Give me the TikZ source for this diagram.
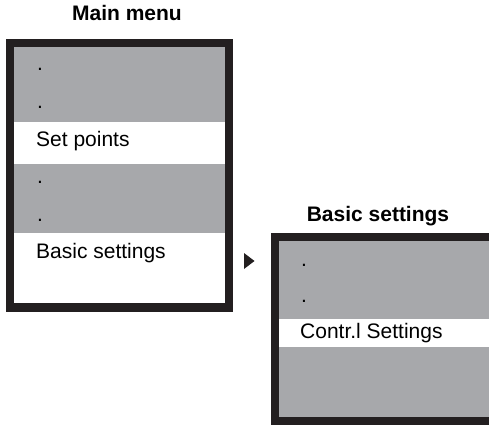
\documentclass[tikz,border=0pt]{standalone}
\usepackage{fontspec}
\setmainfont{Liberation Sans}
\definecolor{menugray}{HTML}{A7A8AB}
\definecolor{frameblack}{HTML}{231F20}

\begin{document}
\begin{tikzpicture}[x=1pt,y=1pt,yscale=-1,
    item/.style={anchor=base west,inner sep=0pt,font=\fontsize{21}{24}\selectfont},
    heading/.style={anchor=base,inner sep=0pt,font=\bfseries\fontsize{21}{24}\selectfont},
    frame/.style={draw=frameblack,line width=8.5pt}]
        \useasboundingbox (0,0) rectangle (489,425);
        \clip (0,0) rectangle (489,425);
        % main menu
        \node[heading] (maintitle) at (127,21) {Main menu};
        \fill[menugray] (10,43) rectangle (229,122);
        \fill[menugray] (10,164) rectangle (229,233);
        \draw[frame] (10,43) rectangle (229,307.5);
        \node[item] (mdot1) at (37,71) {.};
        \node[item] (mdot2) at (37,109) {.};
        \node[item] (setpoints) at (36,146) {Set points};
        \node[item] (mdot3) at (37,183) {.};
        \node[item] (mdot4) at (37,221) {.};
        \node[item] (basic) at (36,258) {Basic settings};
        % arrow
        \fill[frameblack] (244,253) -- (254.5,261) -- (244,269) -- cycle;
        % basic settings
        \node[heading] (basictitle) at (378,221) {Basic settings};
        \fill[menugray] (275,237) rectangle (500,319);
        \fill[menugray] (275,347) rectangle (500,421);
        \draw[frame] (275,237) rectangle (500,421);
        \node[item] (bdot1) at (301,266) {.};
        \node[item] (bdot2) at (301,302) {.};
        \node[item] (contrl) at (300,338) {Contr.l Settings};
\end{tikzpicture}
\end{document}
